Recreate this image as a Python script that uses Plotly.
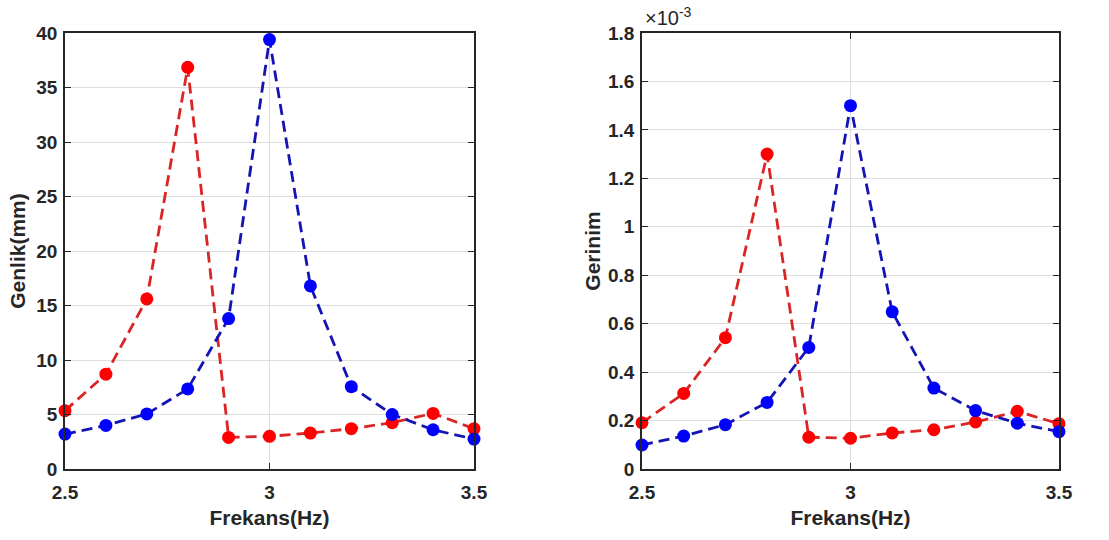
import plotly.graph_objects as go

freq = [2.5, 2.6, 2.7, 2.8, 2.9, 3.0, 3.1, 3.2, 3.3, 3.4, 3.5]

genlik_red = [5.35, 8.7, 15.6, 36.85, 2.9, 3.0, 3.3, 3.7, 4.25, 5.1, 3.7]
genlik_blue = [3.2, 4.0, 5.05, 7.35, 13.8, 39.4, 16.8, 7.55, 5.0, 3.6, 2.75]

gerinim_red = [0.191e-3, 0.312e-3, 0.542e-3, 1.30e-3, 0.131e-3, 0.127e-3, 0.149e-3, 0.162e-3, 0.194e-3, 0.238e-3, 0.187e-3]
gerinim_blue = [0.099e-3, 0.136e-3, 0.183e-3, 0.275e-3, 0.502e-3, 1.50e-3, 0.649e-3, 0.334e-3, 0.241e-3, 0.189e-3, 0.154e-3]

x_ticks = [2.5, 3, 3.5]
x_ticktext = ["2.5", "3", "3.5"]
genlik_ticks = [0, 5, 10, 15, 20, 25, 30, 35, 40]
gerinim_ticks = [0, 0.2e-3, 0.4e-3, 0.6e-3, 0.8e-3, 1.0e-3, 1.2e-3, 1.4e-3, 1.6e-3, 1.8e-3]
gerinim_ticktext = ["0", "0.2", "0.4", "0.6", "0.8", "1", "1.2", "1.4", "1.6", "1.8"]

RED_LINE = "#d92525"
BLUE_LINE = "#1414b4"
RED_MK = "#ff0000"
BLUE_MK = "#0000ff"
TXT = "#262626"
FONT = "Liberation Sans, Arial, sans-serif"

fig = go.Figure()

def add(x, y, lc, mc, xa, ya):
    fig.add_trace(go.Scatter(
        x=x, y=y, mode="lines+markers", xaxis=xa, yaxis=ya,
        line=dict(color=lc, width=2.8, dash="11px,6px"),
        marker=dict(color=mc, size=13, line=dict(width=0)),
        showlegend=False, cliponaxis=False))

add(freq, genlik_red, RED_LINE, RED_MK, "x", "y")
add(freq, genlik_blue, BLUE_LINE, BLUE_MK, "x", "y")
add(freq, gerinim_red, RED_LINE, RED_MK, "x2", "y2")
add(freq, gerinim_blue, BLUE_LINE, BLUE_MK, "x2", "y2")

W, H = 1109, 540
L, R, T, B = 65, 1109 - 1059, 33, 540 - 469
PW = W - L - R

axis_common = dict(
    showline=True, linecolor=TXT, linewidth=1.6, mirror="ticks",
    ticks="inside", ticklen=6, tickwidth=1.2, tickcolor=TXT,
    showgrid=True, gridcolor="#dedede", gridwidth=1,
    zeroline=False, automargin=False,
    tickfont=dict(family=FONT, size=19, color=TXT, weight="bold"),
    title_font=dict(family=FONT, size=21, color=TXT, weight="bold"),
)

fig.update_layout(
    width=W, height=H,
    margin=dict(l=L, r=R, t=T, b=B),
    paper_bgcolor="white", plot_bgcolor="white",
    font=dict(family=FONT, color=TXT),
    xaxis=dict(axis_common, domain=[0, (474 - L) / PW], range=[2.5, 3.5],
               tickvals=x_ticks, ticktext=x_ticktext, ticklabelstandoff=5,
               title=dict(text="Frekans(Hz)", standoff=9), anchor="y"),
    yaxis=dict(axis_common, domain=[0, 1], range=[0, 40], tickvals=genlik_ticks,
               ticklabelstandoff=2,
               title=dict(text="Genlik(mm)", standoff=5), anchor="x"),
    xaxis2=dict(axis_common, domain=[(642 - L) / PW, 1], range=[2.5, 3.5],
                tickvals=x_ticks, ticktext=x_ticktext, ticklabelstandoff=5,
                title=dict(text="Frekans(Hz)", standoff=9), anchor="y2"),
    yaxis2=dict(axis_common, domain=[0, 1], range=[0, 1.8e-3], tickvals=gerinim_ticks,
                ticktext=gerinim_ticktext, ticklabelstandoff=2,
                title=dict(text="Gerinim", standoff=2), anchor="x2"),
)

fig.add_annotation(
    x=(642 - L) / PW, y=1, xref="paper", yref="paper",
    xanchor="left", yanchor="bottom", yshift=2, xshift=1, showarrow=False,
    text="×10<sup>-3</sup>",
    font=dict(family=FONT, size=20, color=TXT))

fig.write_html("out.html", config={"displayModeBar": False},
               post_script="document.body.style.margin='0';")
